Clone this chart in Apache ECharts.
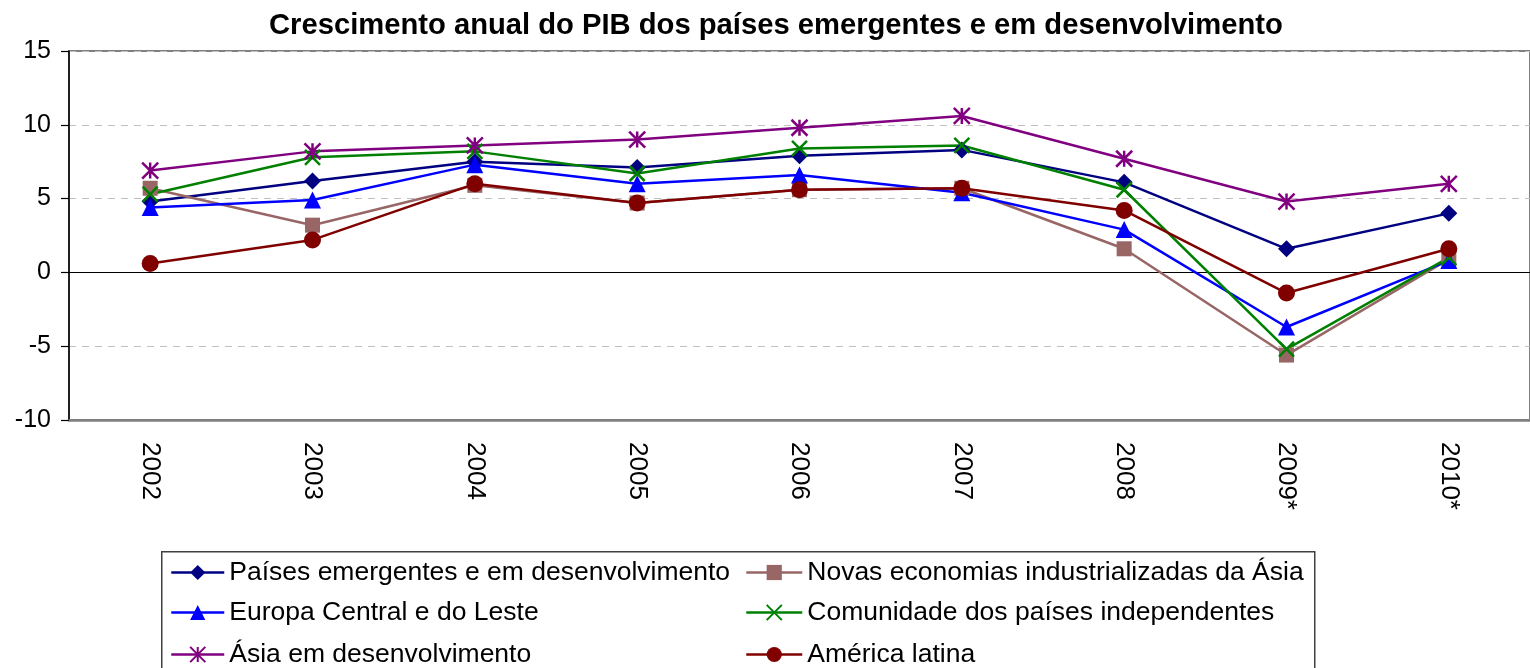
<!DOCTYPE html>
<html>
<head>
<meta charset="utf-8">
<script src="https://cdn.jsdelivr.net/npm/echarts@6/dist/echarts.min.js"></script>
<style>html,body{margin:0;padding:0;background:#fff;}#c{width:1530px;height:668px;}</style>
</head>
<body>
<div id="c"></div>
<script>
const categories = ['2002','2003','2004','2005','2006','2007','2008','2009*','2010*'];
const yTicks = { min: -10, max: 15, interval: 5 };
const emergentes = [4.8, 6.2, 7.5, 7.1, 7.9, 8.3, 6.1, 1.6, 4.0];
const novasEconomias = [5.7, 3.2, 5.9, 4.7, 5.6, 5.7, 1.6, -5.6, 0.9];
const europaCentral = [4.4, 4.9, 7.3, 6.0, 6.6, 5.4, 2.9, -3.7, 0.8];
const comunidade = [5.3, 7.8, 8.2, 6.7, 8.4, 8.6, 5.6, -5.2, 1.0];
const asiaDesenv = [6.9, 8.2, 8.6, 9.0, 9.8, 10.6, 7.7, 4.8, 6.0];
const americaLatina = [0.6, 2.2, 6.0, 4.7, 5.6, 5.7, 4.2, -1.4, 1.6];
const names = ['Países emergentes e em desenvolvimento','Novas economias industrializadas da Ásia','Europa Central e do Leste','Comunidade dos países independentes','Ásia em desenvolvimento','América latina'];

const FONT = 'Liberation Sans, Arial, sans-serif';
const STAR = 'path://M0,0L10,10M10,0L0,10M5,0L5,10';
const CROSS = 'path://M0,0L10,10M10,0L0,10';

function mk(name, data, color, symbol, size, stroke) {
  const s = {
    name, type: 'line', data, symbol, symbolSize: size,
    lineStyle: { color, width: 2.5 },
    itemStyle: { color },
    emphasis: { disabled: true },
    xAxisIndex: 0, yAxisIndex: 0
  };
  if (stroke) {
    s.itemStyle = { color: 'rgba(0,0,0,0)', borderColor: color, borderWidth: 2.5 };
  }
  return s;
}

// legend slots: [series index, left, row center]
const legendSlots = [[0, 170, 573], [2, 170, 613], [4, 170, 655], [1, 745, 573], [3, 745, 613], [5, 745, 655]];
const legends = legendSlots.map(([i, left, cy]) => ({
  orient: 'horizontal', left, top: cy - 14, padding: 0,
  itemWidth: left < 500 ? 53 : 56, itemHeight: 19,
  data: [names[i]],
  lineStyle: { width: 2.5 },
  textStyle: { fontFamily: FONT, fontSize: 26.5, color: '#000', padding: [0, 0, 0, 0] }
}));

const chart = echarts.init(document.getElementById('c'));
chart.setOption({
  animation: false,
  backgroundColor: '#fff',
  title: {
    text: 'Crescimento anual do PIB dos países emergentes e em desenvolvimento',
    left: 264, top: 6,
    textStyle: { fontFamily: FONT, fontSize: 29.2, fontWeight: 'bold', color: '#000' }
  },
  grid: { left: 69, top: 51, right: -8, bottom: 248, show: true, borderColor: '#808080', borderWidth: 2 },
  xAxis: [{
    type: 'category', data: categories, boundaryGap: true,
    axisLine: { onZero: false, lineStyle: { color: '#808080', width: 2.5 } },
    axisTick: { show: false },
    axisLabel: { rotate: -90, fontFamily: FONT, fontSize: 26, color: '#000', margin: 22 }
  }, {
    type: 'category', data: categories, boundaryGap: true, position: 'bottom',
    axisLine: { onZero: true, lineStyle: { color: '#000', width: 1.2 } },
    axisTick: { show: false }, axisLabel: { show: false }, splitLine: { show: false }
  }],
  yAxis: {
    type: 'value', min: yTicks.min, max: yTicks.max, interval: yTicks.interval,
    axisLine: { show: true, lineStyle: { color: '#000', width: 1.5 } },
    axisTick: { show: true, inside: false, length: 8, lineStyle: { color: '#000', width: 1.2 } },
    axisLabel: { fontFamily: FONT, fontSize: 25, color: '#000', margin: 18 },
    splitLine: { show: true, lineStyle: { color: '#c0c0c0', type: [7, 6], width: 1 } }
  },
  legend: legends,
  graphic: [{
    type: 'rect', left: 161, top: 551, z: -1,
    shape: { width: 1153, height: 130 },
    style: { fill: '#fff', stroke: '#404040', lineWidth: 1.5 }
  }],
  series: [
    mk(names[0], emergentes, '#000080', 'diamond', 17),
    mk(names[1], novasEconomias, '#996666', 'rect', 15),
    mk(names[2], europaCentral, '#0000FF', 'triangle', 17),
    mk(names[3], comunidade, '#008000', CROSS, 15, true),
    mk(names[4], asiaDesenv, '#800080', STAR, 16, true),
    mk(names[5], americaLatina, '#800000', 'circle', 17)
  ]
});
</script>
</body>
</html>
